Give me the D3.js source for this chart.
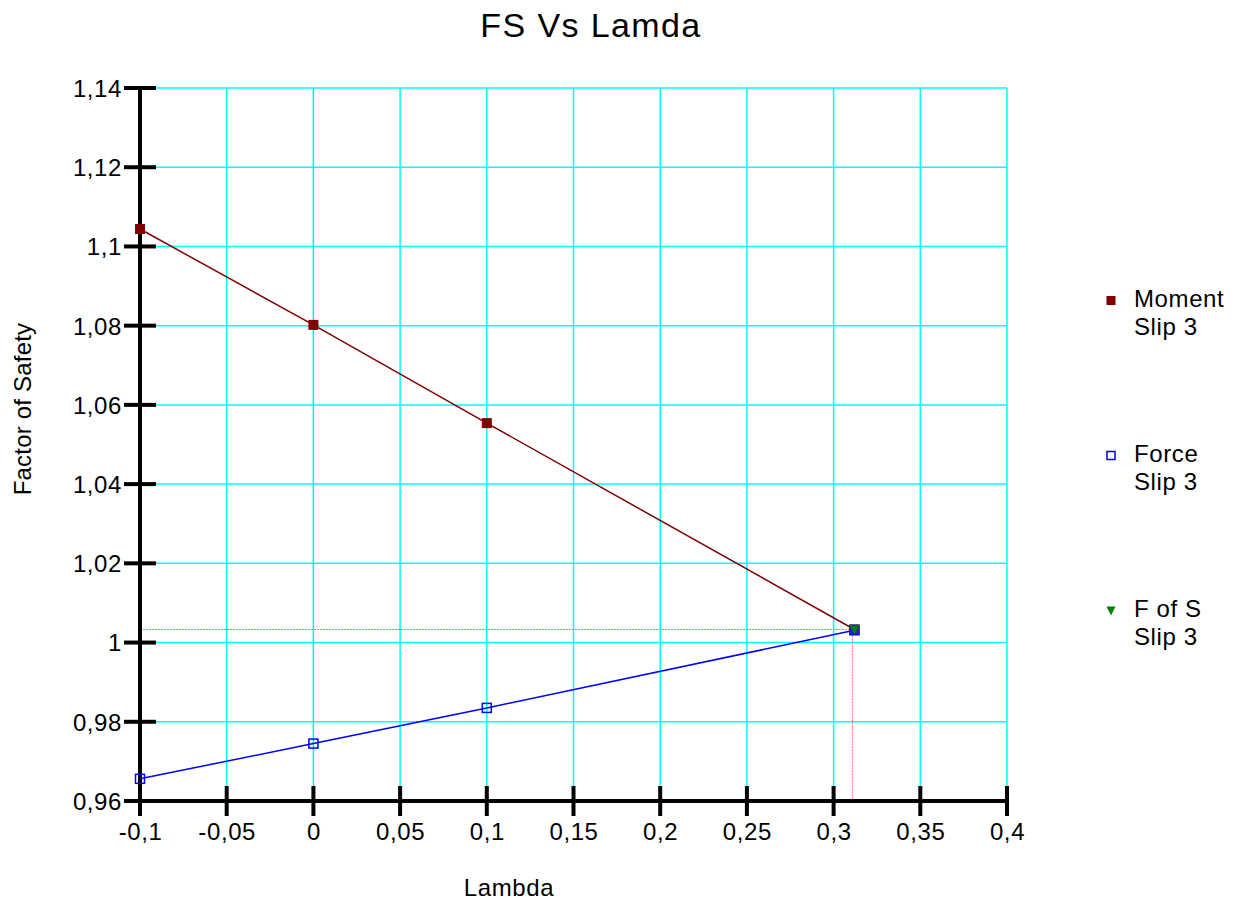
<!DOCTYPE html>
<html>
<head>
<meta charset="utf-8">
<script src="https://cdn.jsdelivr.net/npm/d3@7"></script>
<style>
  html, body { margin: 0; padding: 0; background: #fff; }
  svg { display: block; font-family: "Liberation Sans", Arial, sans-serif; }
</style>
</head>
<body>
<svg id="chart" width="1238" height="900"></svg>
<script>
// Lambda values and factor-of-safety results
const lambdaMoment = [-0.1, 0, 0.1, 0.312];
const fsMoment     = [1.1044, 1.0802, 1.0554, 1.0033];
const lambdaForce  = [-0.1, 0, 0.1, 0.312];
const fsForce      = [0.9656, 0.9745, 0.9835, 1.0031];
const lambdaFoS    = [0.312];
const fsFoS        = [1.0033];

const xTicks = [-0.1, -0.05, 0, 0.05, 0.1, 0.15, 0.2, 0.25, 0.3, 0.35, 0.4];
const yTicks = [0.96, 0.98, 1, 1.02, 1.04, 1.06, 1.08, 1.1, 1.12, 1.14];

const legendItems = [
  { name: ["Moment", "Slip 3"], kind: "moment" },
  { name: ["Force", "Slip 3"], kind: "force" },
  { name: ["F of  S", "Slip 3"], kind: "fos" }
];

const svg = d3.select("#chart");
const plotL = 140, plotR = 1007, plotT = 88, plotB = 801;
const FONT = "'Liberation Sans', Arial, sans-serif";

const x = d3.scaleLinear().domain([-0.1, 0.4]).range([plotL, plotR]);
const y = d3.scaleLinear().domain([0.96, 1.14]).range([plotB, plotT]);

const fmt = v => String(+v.toFixed(4)).replace(".", ",");

// grid
const grid = svg.append("g");
grid.selectAll("line.h").data(yTicks).join("line")
  .attr("x1", plotL).attr("x2", plotR)
  .attr("y1", d => y(d)).attr("y2", d => y(d))
  .attr("stroke", "#00ffff").attr("stroke-width", 1.5);
grid.selectAll("line.v").data(xTicks).join("line")
  .attr("x1", d => x(d)).attr("x2", d => x(d))
  .attr("y1", plotT).attr("y2", plotB)
  .attr("stroke", "#00ffff").attr("stroke-width", 1.5);

// zero line
svg.append("line")
  .attr("x1", x(0)).attr("x2", x(0)).attr("y1", plotT).attr("y2", plotB)
  .attr("stroke", "#999").attr("stroke-width", 1).attr("stroke-dasharray", "1,1");

// critical point guide lines
svg.append("line")
  .attr("x1", plotL).attr("x2", x(lambdaFoS[0]))
  .attr("y1", y(fsFoS[0])).attr("y2", y(fsFoS[0]))
  .attr("stroke", "#ff7070").attr("stroke-width", 1).attr("stroke-dasharray", "2,1");
svg.append("line")
  .attr("x1", x(lambdaFoS[0]) - 2).attr("x2", x(lambdaFoS[0]) - 2)
  .attr("y1", y(fsFoS[0])).attr("y2", plotB)
  .attr("stroke", "#ff7070").attr("stroke-width", 1).attr("stroke-dasharray", "2,1");

// axes
const xAxis = d3.axisBottom(x).tickValues(xTicks).tickSize(0).tickFormat(fmt);
const yAxis = d3.axisLeft(y).tickValues(yTicks).tickSize(0).tickFormat(fmt);

const gx = svg.append("g").attr("transform", `translate(0,${plotB})`).call(xAxis)
  .attr("font-size", 24).attr("font-family", FONT);
gx.select(".domain").remove();
gx.selectAll("text").attr("dy", null).attr("y", 39)
  .attr("fill", "#000").attr("letter-spacing", 0.6);

const gy = svg.append("g").attr("transform", `translate(${plotL},0)`).call(yAxis)
  .attr("font-size", 24).attr("font-family", FONT);
gy.select(".domain").remove();
gy.selectAll("text").attr("x", -18).attr("dy", "0.35em")
  .attr("fill", "#000").attr("letter-spacing", 0.6);

// axis lines and cross ticks
svg.append("line").attr("x1", plotL).attr("x2", plotR + 2)
  .attr("y1", plotB).attr("y2", plotB)
  .attr("stroke", "#000").attr("stroke-width", 4);
svg.append("line").attr("x1", plotL).attr("x2", plotL)
  .attr("y1", plotT - 2).attr("y2", plotB + 15)
  .attr("stroke", "#000").attr("stroke-width", 4);
svg.append("g").selectAll("line").data(xTicks).join("line")
  .attr("x1", d => x(d)).attr("x2", d => x(d))
  .attr("y1", d => d === xTicks[0] ? plotB : plotB - 15).attr("y2", plotB + 15)
  .attr("stroke", "#000").attr("stroke-width", 4);
svg.append("g").selectAll("line").data(yTicks).join("line")
  .attr("x1", plotL - 16).attr("x2", d => d === yTicks[0] ? plotL : plotL + 16)
  .attr("y1", d => y(d)).attr("y2", d => y(d))
  .attr("stroke", "#000").attr("stroke-width", 4);

// series lines
const line = d3.line().x(d => x(d[0])).y(d => y(d[1]));
svg.append("path").datum(d3.zip(lambdaMoment, fsMoment))
  .attr("d", line).attr("fill", "none").attr("stroke", "#800000").attr("stroke-width", 1.5);
svg.append("path").datum(d3.zip(lambdaForce, fsForce))
  .attr("d", line).attr("fill", "none").attr("stroke", "#0000ff").attr("stroke-width", 1.5);

// markers
function drawMarker(g, kind, cx, cy) {
  if (kind === "moment") {
    g.append("rect").attr("x", cx - 5).attr("y", cy - 5).attr("width", 10).attr("height", 10)
      .attr("fill", "#800000");
  } else if (kind === "force") {
    g.append("rect").attr("x", cx - 4.5).attr("y", cy - 4.5).attr("width", 9).attr("height", 9)
      .attr("fill", "none").attr("stroke", "#0000ff").attr("stroke-width", 1.5);
  } else {
    g.append("path")
      .attr("d", `M${cx - 5},${cy - 4}L${cx + 5},${cy - 4}L${cx},${cy + 5}Z`)
      .attr("fill", "#008000");
  }
}
const marks = svg.append("g");
d3.zip(lambdaMoment, fsMoment).forEach(d => drawMarker(marks, "moment", x(d[0]), y(d[1])));
d3.zip(lambdaForce, fsForce).forEach(d => drawMarker(marks, "force", x(d[0]), y(d[1])));
d3.zip(lambdaFoS, fsFoS).forEach(d => {
  marks.append("rect").attr("x", x(d[0]) - 5).attr("y", y(d[1]) - 5)
    .attr("width", 10).attr("height", 10).attr("fill", "#2020c0");
  drawMarker(marks, "fos", x(d[0]), y(d[1]));
});

// title and axis titles
svg.append("text").attr("x", 591).attr("y", 37).attr("text-anchor", "middle")
  .attr("font-size", 34).attr("letter-spacing", 1.4).text("FS Vs Lamda");
svg.append("text").attr("x", 509).attr("y", 896).attr("text-anchor", "middle")
  .attr("font-size", 24).attr("letter-spacing", 0.6).text("Lambda");
svg.append("text").attr("transform", "translate(31,409) rotate(-90)")
  .attr("text-anchor", "middle").attr("font-size", 24).attr("letter-spacing", 0.2)
  .text("Factor of Safety");

// legend
const legend = svg.append("g");
legendItems.forEach((it, i) => {
  const yy = 300.5 + i * 155;
  const lg = legend.append("g");
  if (it.kind === "moment") {
    lg.append("rect").attr("x", 1106.5).attr("y", yy - 4.5).attr("width", 9).attr("height", 9).attr("fill", "#800000");
  } else if (it.kind === "force") {
    lg.append("rect").attr("x", 1107).attr("y", yy - 4).attr("width", 8).attr("height", 8)
      .attr("fill", "none").attr("stroke", "#0000ff").attr("stroke-width", 1.5);
  } else {
    lg.append("path").attr("d", `M1106.5,${yy - 4}L1115.5,${yy - 4}L1111,${yy + 5}Z`).attr("fill", "#008000");
  }
  it.name.forEach((t, j) => {
    lg.append("text").attr("x", 1134).attr("y", yy + 6.5 + j * 28)
      .attr("font-size", 24).attr("letter-spacing", 0.6).text(t);
  });
});
</script>
</body>
</html>
